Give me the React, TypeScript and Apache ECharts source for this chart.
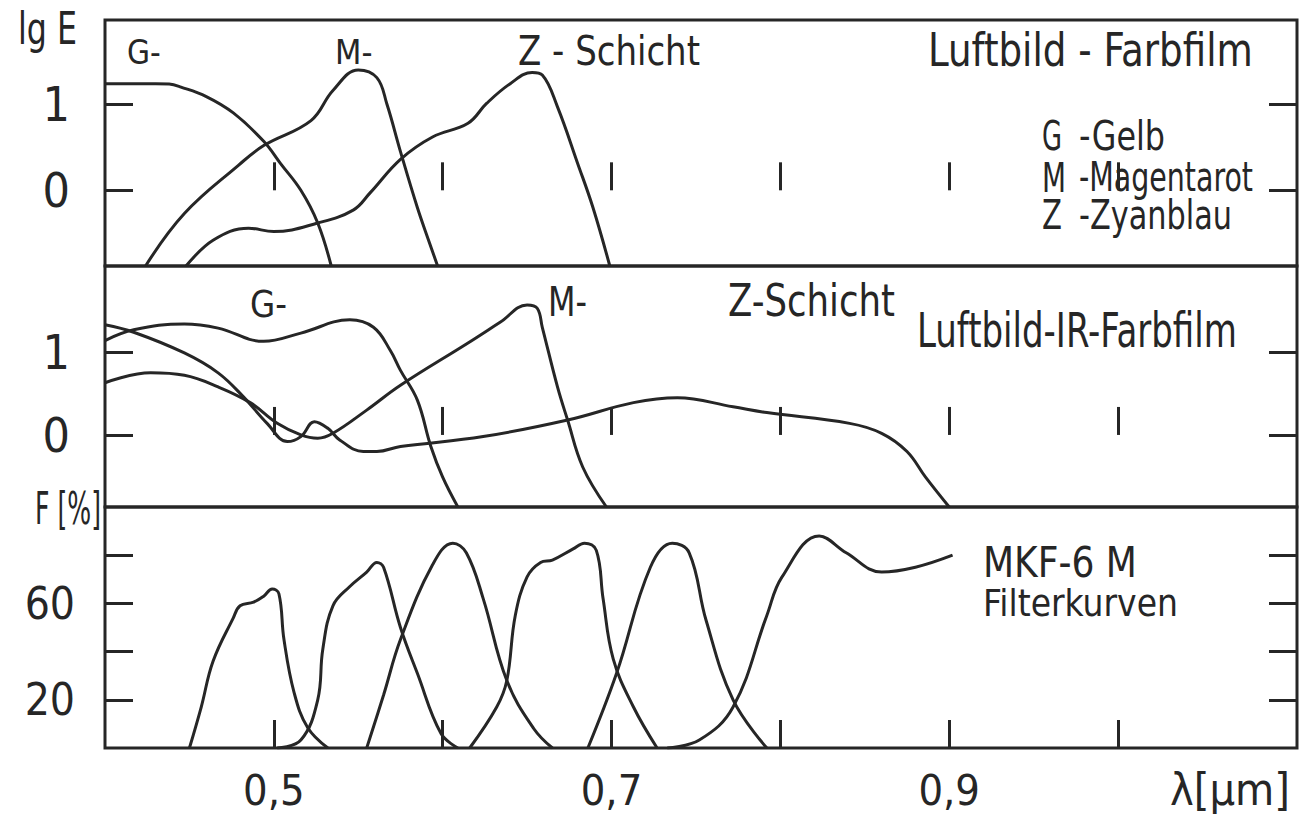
import React, { useEffect, useRef } from "react";
import * as echarts from "echarts";

const FONT = "'DejaVu Sans Condensed', 'DejaVu Sans', sans-serif";
const INK = "#262626";

// Wavelength axis [µm]
const lambdaMin = 0.4;
const lambdaMax = 1.106;
const lambdaTicks = [0.5, 0.6, 0.7, 0.8, 0.9, 1.0];
const lambdaLabels = [0.5, 0.7, 0.9];

// Panel ranges and ticks
const lgERange1 = [-0.88, 1.98];
const lgERange2 = [-0.87, 2.04];
const lgETicks = [0, 1];
const filterRange = [0, 100];
const filterTicks = [20, 40, 60, 80];
const filterLabels = [20, 60];

// Luftbild-Farbfilm: lg E of the three layers [λ µm, lg E]
const farbG = [
  [0.4, 1.24], [0.43, 1.24], [0.438, 1.235], [0.445, 1.2], [0.46, 1.09], [0.476, 0.9],
  [0.494, 0.57], [0.504, 0.31], [0.516, 0.0], [0.526, -0.38], [0.534, -0.88],
];
const farbM = [
  [0.424, -0.88], [0.447, -0.27], [0.479, 0.29], [0.494, 0.52], [0.522, 0.81], [0.535, 1.16],
  [0.55, 1.4], [0.561, 1.31], [0.567, 1.0], [0.575, 0.45], [0.585, -0.2], [0.592, -0.6], [0.597, -0.88],
];
const farbZ = [
  [0.448, -0.88], [0.464, -0.58], [0.485, -0.44], [0.5, -0.48], [0.526, -0.38], [0.547, -0.23],
  [0.557, -0.03], [0.575, 0.36], [0.594, 0.62], [0.615, 0.78], [0.626, 1.01], [0.64, 1.24],
  [0.653, 1.37], [0.659, 1.34], [0.668, 0.97], [0.68, 0.31], [0.689, -0.2], [0.699, -0.88],
];

// Luftbild-IR-Farbfilm: lg E of the three layers
const irG = [
  [0.4, 1.14], [0.417, 1.27], [0.447, 1.34], [0.467, 1.29], [0.494, 1.13], [0.516, 1.23],
  [0.545, 1.39], [0.559, 1.3], [0.569, 1.02], [0.575, 0.78], [0.585, 0.42], [0.593, -0.14],
  [0.6, -0.51], [0.609, -0.87],
];
const irM = [
  [0.4, 0.63], [0.427, 0.75], [0.447, 0.72], [0.467, 0.58], [0.486, 0.39], [0.502, 0.14],
  [0.516, 0.0], [0.526, -0.04], [0.535, 0.02], [0.555, 0.3], [0.575, 0.6], [0.615, 1.11],
  [0.634, 1.36], [0.65, 1.57], [0.656, 1.53], [0.659, 1.3], [0.668, 0.58], [0.674, 0.18],
  [0.683, -0.39], [0.697, -0.87],
];
const irZ = [
  [0.4, 1.33], [0.417, 1.24], [0.447, 0.99], [0.467, 0.75], [0.482, 0.46], [0.496, 0.14],
  [0.508, -0.08], [0.516, -0.02], [0.524, 0.16], [0.532, 0.08], [0.539, -0.06], [0.553, -0.2],
  [0.561, -0.2], [0.575, -0.14], [0.624, -0.02], [0.674, 0.18], [0.713, 0.39], [0.739, 0.45],
  [0.772, 0.34], [0.792, 0.27], [0.841, 0.14], [0.86, 0.02], [0.875, -0.2], [0.886, -0.51],
  [0.9, -0.87],
];

// MKF-6 M filter curves, transmission F [%]
const filter1 = [
  [0.45, 0], [0.457, 17], [0.464, 36], [0.476, 54], [0.48, 59], [0.488, 60.5], [0.494, 63],
  [0.499, 66], [0.503, 64], [0.506, 45], [0.512, 23], [0.52, 8.5], [0.532, 0],
];
const filter2 = [
  [0.502, 0], [0.516, 3.3], [0.526, 20], [0.529, 41], [0.535, 59], [0.545, 67], [0.555, 73],
  [0.561, 77], [0.565, 75], [0.575, 50], [0.585, 31], [0.599, 6], [0.609, 0],
];
const filter3 = [
  [0.555, 0], [0.565, 22], [0.575, 45], [0.594, 76], [0.606, 85], [0.614, 81], [0.624, 62],
  [0.638, 28], [0.654, 8], [0.665, 0],
];
const filter4 = [
  [0.616, 0], [0.632, 17], [0.638, 28], [0.643, 55], [0.65, 71], [0.658, 77], [0.665, 78],
  [0.677, 82.5], [0.684, 85], [0.691, 82], [0.695, 62], [0.701, 37], [0.713, 17], [0.727, 0],
];
const filter5 = [
  [0.686, 0], [0.703, 31], [0.723, 75], [0.736, 85], [0.746, 81], [0.756, 53], [0.772, 20],
  [0.792, 0],
];
const filter6 = [
  [0.733, 0], [0.752, 3.3], [0.772, 17], [0.792, 55], [0.801, 71], [0.823, 88], [0.839, 81],
  [0.86, 73], [0.88, 75], [0.902, 80],
];

const panels = [
  { top: 20, height: 246, range: lgERange1, ticks: lgETicks, labels: lgETicks, labelSize: 48, labelMargin: 35, curves: [farbG, farbM, farbZ] },
  { top: 266, height: 241, range: lgERange2, ticks: lgETicks, labels: lgETicks, labelSize: 48, labelMargin: 35, curves: [irG, irM, irZ] },
  { top: 507, height: 241, range: filterRange, ticks: filterTicks, labels: filterLabels, labelSize: 44, labelMargin: 30, curves: [filter1, filter2, filter3, filter4, filter5, filter6] },
];

const measureCtx = typeof document !== "undefined" ? document.createElement("canvas").getContext("2d") : null;

function textWidth(str: string, size: number) {
  if (!measureCtx) return str.length * size * 0.5;
  measureCtx.font = `${size}px ${FONT}`;
  return measureCtx.measureText(str).width;
}

// Lettering squeezed horizontally to a given width, like stencil script
function text(str: string, x: number, y: number, size: number, width: number, align = "left") {
  const sx = Math.min(1, width / textWidth(str, size));
  return {
    type: "text",
    x,
    y,
    scaleX: sx,
    style: {
      text: str,
      fill: INK,
      fontSize: size,
      fontFamily: FONT,
      textAlign: align,
      textVerticalAlign: "middle",
    },
  };
}

export default function App() {
  const ref = useRef<HTMLDivElement>(null);

  useEffect(() => {
    if (!ref.current) return;
    const chart = echarts.init(ref.current, null, { renderer: "svg" });

    const grid = panels.map((p) => ({
      left: 105,
      right: 4,
      top: p.top,
      height: p.height,
      show: true,
      borderColor: INK,
      borderWidth: 3,
      backgroundColor: "transparent",
    }));

    const xAxis = panels.map((p, i) => ({
      type: "value",
      gridIndex: i,
      min: lambdaMin,
      max: lambdaMax,
      axisLine: { show: false },
      splitLine: { show: false },
      axisTick: {
        show: true,
        inside: true,
        length: 28,
        customValues: lambdaTicks,
        lineStyle: { color: INK, width: 3 },
      },
      axisLabel: {
        show: i === panels.length - 1,
        customValues: lambdaLabels,
        margin: 20,
        color: INK,
        fontSize: 43,
        fontFamily: FONT,
        formatter: (v: number) => v.toFixed(1).replace(".", ","),
      },
    }));

    const yAxis: any[] = [];
    panels.forEach((p, i) => {
      ["left", "right"].forEach((pos) => {
        yAxis.push({
          type: "value",
          gridIndex: i,
          position: pos,
          min: p.range[0],
          max: p.range[1],
          axisLine: { show: false },
          splitLine: { show: false },
          axisTick: {
            show: true,
            inside: true,
            length: 28,
            customValues: p.ticks,
            lineStyle: { color: INK, width: 3 },
          },
          axisLabel: {
            show: pos === "left",
            customValues: p.labels,
            margin: p.labelMargin,
            color: INK,
            fontSize: p.labelSize,
            fontFamily: FONT,
          },
        });
      });
    });

    const series: any[] = [];
    panels.forEach((p, i) => {
      p.curves.forEach((data) => {
        series.push({
          type: "line",
          xAxisIndex: i,
          yAxisIndex: i * 2,
          data,
          showSymbol: false,
          smooth: 0.4,
          clip: true,
          lineStyle: { color: INK, width: 3 },
          silent: true,
        });
      });
    });

    const graphic = [
      text("lg E", 18, 29, 44, 59),
      text("F [%]", 101, 508, 45, 66, "right"),
      text("λ[µm]", 1170, 789, 45, 120),
      text("G-", 127, 52, 33, 45),
      text("M-", 335, 52, 34, 60),
      text("Z - Schicht", 518, 50, 41, 182),
      text("Luftbild - Farbfilm", 928, 50, 47, 325),
      text("G", 1042, 136, 40, 20),
      text("-Gelb", 1079, 136, 40, 86),
      text("M", 1042, 178, 40, 24),
      text("-Magentarot", 1079, 178, 40, 174),
      text("Z", 1042, 215, 40, 20),
      text("-Zyanblau", 1079, 215, 40, 153),
      text("G-", 250, 304, 37, 37),
      text("M-", 548, 302, 41, 39),
      text("Z-Schicht", 728, 301, 45, 167),
      text("Luftbild-IR-Farbfilm", 917, 330, 48, 320),
      text("MKF-6 M", 983, 562, 43, 154),
      text("Filterkurven", 983, 603, 38, 195),
    ];

    chart.setOption({
      animation: false,
      backgroundColor: "#ffffff",
      grid,
      xAxis,
      yAxis,
      series,
      graphic,
    });

    return () => chart.dispose();
  }, []);

  return (
    <div
      ref={ref}
      style={{ position: "fixed", left: 0, top: 0, width: 1301, height: 821, background: "#fff" }}
    />
  );
}
